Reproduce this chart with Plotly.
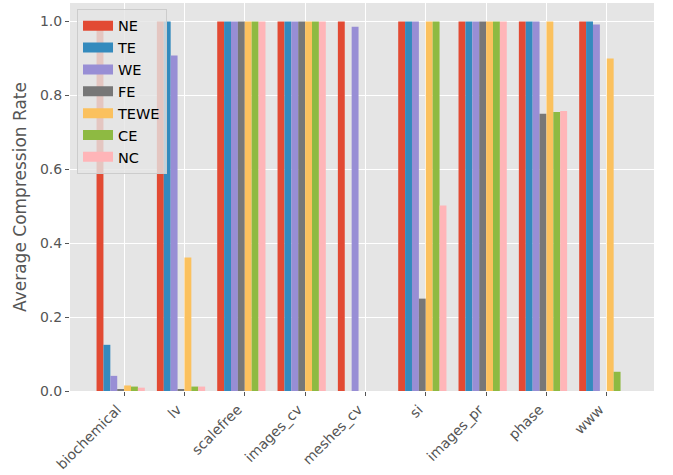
import numpy as np
import plotly.graph_objects as go

categories = ["biochemical", "lv", "scalefree", "images_cv", "meshes_cv", "si", "images_pr", "phase", "www"]
series_names = ["NE", "TE", "WE", "FE", "TEWE", "CE", "NC"]
colors = ["#E24A33", "#348ABD", "#988ED5", "#777777", "#FBC15E", "#8EBA42", "#FFB5B8"]

NE = [1.0, 1.0, 1.0, 1.0, 1.0, 1.0, 1.0, 1.0, 1.0]
TE = [0.125, 1.0, 1.0, 1.0, 0.0, 1.0, 1.0, 1.0, 1.0]
WE = [0.041, 0.908, 1.0, 1.0, 0.986, 1.0, 1.0, 1.0, 0.992]
FE = [0.004, 0.004, 1.0, 1.0, 0.0, 0.25, 1.0, 0.75, 0.0]
TEWE = [0.015, 0.361, 1.0, 1.0, 0.0, 1.0, 1.0, 1.0, 0.9]
CE = [0.012, 0.012, 1.0, 1.0, 0.0, 1.0, 1.0, 0.755, 0.052]
NC = [0.009, 0.012, 1.0, 1.0, 0.0, 0.502, 1.0, 0.758, 0.0]
values = [NE, TE, WE, FE, TEWE, CE, NC]

yticks = [0.0, 0.2, 0.4, 0.6, 0.8, 1.0]

x = np.arange(len(categories))
n = len(series_names)
w = 0.8 / n

FONT = "DejaVu Sans"
fig = go.Figure()
for name, col, vals in zip(series_names, colors, values):
    fig.add_trace(go.Bar(x=x, y=vals, name=name, marker=dict(color=col, line=dict(width=0)),
                         showlegend=False))
for name, col in zip(series_names, colors):
    fig.add_trace(go.Scatter(x=[None], y=[None], mode="lines", name=name,
                             line=dict(color=col, width=10), showlegend=True))

fig.update_layout(
    width=673, height=475,
    margin=dict(l=70, r=19, t=3, b=84),
    paper_bgcolor="white",
    plot_bgcolor="#E5E5E5",
    barmode="group", bargap=0.2, bargroupgap=0,
    font=dict(family=FONT, size=14, color="#555555"),
    legend=dict(x=0.012, y=0.985, xanchor="left", yanchor="top",
                bgcolor="rgba(229,229,229,0.8)", bordercolor="#CCCCCC", borderwidth=1,
                font=dict(family=FONT, size=14.5, color="black"),
                itemwidth=30, tracegroupgap=0),
    showlegend=True,
)
fig.update_xaxes(
    range=[-0.84, 8.84], automargin=False,
    tickvals=list(x + w / 2), ticktext=categories,
    tickangle=-45, ticks="outside", ticklen=4, tickcolor="#555555",
    ticklabelshift=-7,
    showgrid=True, gridcolor="white", gridwidth=1,
    zeroline=False, showline=False,
    tickfont=dict(family=FONT, size=14, color="#555555"),
)
fig.update_yaxes(
    range=[0, 1.05], automargin=False,
    tickvals=yticks, tickformat=".1f",
    ticks="outside", ticklen=4, tickcolor="#555555",
    showgrid=True, gridcolor="white", gridwidth=1,
    zeroline=False, showline=False,
    title=dict(text="Average Compression Rate", font=dict(family=FONT, size=17, color="#555555"), standoff=8),
    tickfont=dict(family=FONT, size=14, color="#555555"),
)

fig.write_html("out.html", config={"displayModeBar": False},
               post_script="document.body.style.margin='0';document.body.style.overflow='hidden';")
